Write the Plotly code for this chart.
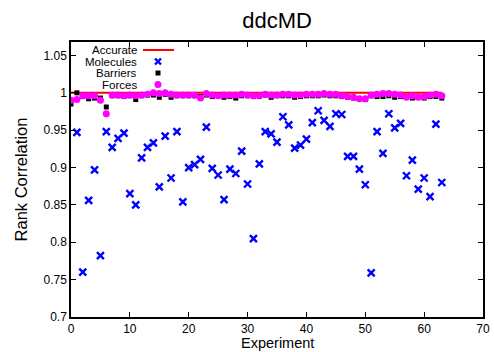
import plotly.graph_objects as go

experiments = list(range(64))

molecules = [None, 0.947, 0.760, 0.856, 0.897, 0.782, 0.948, 0.927, 0.939, 0.946,
             0.865, 0.850, 0.913, 0.927, 0.933, 0.874, 0.942, 0.886, 0.948, 0.854,
             0.900, 0.904, 0.911, 0.954, 0.899, 0.890, 0.857, 0.898, 0.892, 0.922,
             0.878, 0.805, 0.905, 0.948, 0.945, 0.934, 0.968, 0.957, 0.926, 0.930,
             0.938, 0.960, 0.976, 0.963, 0.955, 0.972, 0.971, 0.915, 0.915, 0.898,
             0.877, 0.759, 0.948, 0.919, 0.972, 0.953, 0.959, 0.889, 0.910, 0.871,
             0.886, 0.861, 0.958, 0.880]

barriers = [0.985, 1.000, 0.995, 0.992, 0.993, 0.993, 0.981, 0.996, 0.996, 0.995,
            0.996, 0.991, 0.996, 0.997, 0.997, 0.994, 0.998, 0.994, 0.996, 0.996,
            0.996, 0.996, 0.995, 0.997, 0.995, 0.996, 0.994, 0.995, 0.993, 0.996,
            0.996, 0.995, 0.995, 0.997, 0.994, 0.996, 0.996, 0.996, 0.994, 0.995,
            0.996, 0.996, 0.996, 0.997, 0.996, 0.996, 0.995, 0.994, 0.993, 0.992,
            0.991, 0.996, 0.995, 0.995, 0.996, 0.994, 0.995, 0.995, 0.993, 0.994,
            0.993, 0.995, 0.995, 0.993]

forces = [0.990, 0.991, 0.996, 0.996, 0.996, 0.990, 0.972, 0.997, 0.997, 0.996,
          0.997, 0.996, 0.997, 0.998, 1.000, 0.999, 1.000, 0.998, 0.997, 0.997,
          0.997, 0.997, 0.993, 0.999, 0.997, 0.996, 0.997, 0.997, 0.997, 0.998,
          0.997, 0.996, 0.996, 0.998, 0.997, 0.997, 0.998, 0.998, 0.997, 0.997,
          0.998, 0.998, 0.998, 0.999, 0.998, 0.998, 0.996, 0.995, 0.994, 0.992,
          0.992, 0.997, 0.998, 0.999, 0.999, 0.998, 0.997, 0.994, 0.996, 0.994,
          0.995, 0.997, 0.998, 0.996]

accurate = [1.0] * 64

x_ticks = [0, 10, 20, 30, 40, 50, 60, 70]
y_ticks = [0.7, 0.75, 0.8, 0.85, 0.9, 0.95, 1.0, 1.05]
y_tick_text = ["0.7", "0.75", "0.8", "0.85", "0.9", "0.95", "1", "1.05"]

legend_names = ["Accurate", "Molecules", "Barriers", "Forces"]

FONT = "Liberation Sans, Arial, Helvetica, sans-serif"

fig = go.Figure()
fig.add_trace(go.Scatter(x=experiments, y=accurate, mode="lines",
                         line=dict(color="#ff0000", width=2), name="Accurate"))
fig.add_trace(go.Scatter(x=experiments, y=molecules, mode="markers",
                         marker=dict(symbol="x-thin", size=7,
                                     line=dict(color="#0000ff", width=2.4)),
                         name="Molecules"))
fig.add_trace(go.Scatter(x=experiments, y=barriers, mode="markers",
                         marker=dict(symbol="square", size=5, color="#000000",
                                     line=dict(width=0)),
                         name="Barriers"))
fig.add_trace(go.Scatter(x=experiments, y=forces, mode="markers",
                         marker=dict(symbol="circle", size=7, color="#ff00ff",
                                     line=dict(width=0)),
                         name="Forces"))

axis_common = dict(showgrid=False, zeroline=False, showline=True, linecolor="black",
                   linewidth=1.5, mirror="ticks", ticks="inside", ticklen=5,
                   tickcolor="black", tickwidth=1, automargin=False,
                   tickfont=dict(family=FONT, size=12, color="black"))

fig.update_xaxes(range=[0, 70], tickvals=x_ticks, ticktext=[str(v) for v in x_ticks],
                 **axis_common)
fig.update_yaxes(range=[0.7, 1.068], tickvals=y_ticks, ticktext=y_tick_text,
                 title=dict(text="Rank Correlation", font=dict(family=FONT, size=16.5, color="black"),
                            standoff=12),
                 **axis_common)

# gnuplot-style key: right-aligned text with sample to its right
key_rows_y = [50.0, 61.5, 73.0, 84.5]  # pixel rows from top
plot_top, plot_bot = 42, 317
def py(pix):
    return (plot_bot - pix) / (plot_bot - plot_top)

annotations = []
shapes = []
# x-axis title placed as an annotation for exact positioning
annotations.append(dict(text="Experiment", xref="paper", yref="paper", x=0.5, y=py(352),
                        xanchor="center", yanchor="bottom", showarrow=False, borderpad=0,
                        font=dict(family=FONT, size=14.5, color="black")))
for name, ry in zip(legend_names, key_rows_y):
    annotations.append(dict(text=name, xref="paper", yref="paper", x=(137.5 - 71) / 412,
                            y=py(ry), xanchor="right", yanchor="middle", showarrow=False,
                            borderpad=0,
                            font=dict(family=FONT, size=11.5, color="black")))
sx = (158 - 71) / 412
# Accurate sample line
shapes.append(dict(type="line", xref="paper", yref="paper", x0=(143 - 71) / 412,
                   x1=(174 - 71) / 412, y0=py(key_rows_y[0]), y1=py(key_rows_y[0]),
                   line=dict(color="#ff0000", width=2)))
# Molecules sample (x)
for d in (1, -1):
    shapes.append(dict(type="line", xref="paper", yref="paper", xsizemode="pixel",
                       ysizemode="pixel", xanchor=sx, yanchor=py(key_rows_y[1]),
                       x0=-3, x1=3, y0=-3 * d, y1=3 * d,
                       line=dict(color="#0000ff", width=2.4)))
# Barriers sample (square)
shapes.append(dict(type="rect", xref="paper", yref="paper", xsizemode="pixel",
                   ysizemode="pixel", xanchor=sx, yanchor=py(key_rows_y[2]),
                   x0=-2.5, x1=2.5, y0=-2.5, y1=2.5, fillcolor="#000000",
                   line=dict(width=0)))
# Forces sample (circle)
shapes.append(dict(type="circle", xref="paper", yref="paper", xsizemode="pixel",
                   ysizemode="pixel", xanchor=sx, yanchor=py(key_rows_y[3]),
                   x0=-3.5, x1=3.5, y0=-3.5, y1=3.5, fillcolor="#ff00ff",
                   line=dict(width=0)))

fig.update_layout(
    width=494, height=352,
    margin=dict(l=71, r=11, t=42, b=35, autoexpand=False),
    paper_bgcolor="white", plot_bgcolor="white",
    showlegend=False,
    title=dict(text="ddcMD", x=(71 + 483) / 2 / 494, xanchor="center",
               y=1 - 20 / 352, yanchor="middle",
               font=dict(family=FONT, size=22, color="black")),
    annotations=annotations,
    shapes=shapes,
)

fig.write_html("out.html")
